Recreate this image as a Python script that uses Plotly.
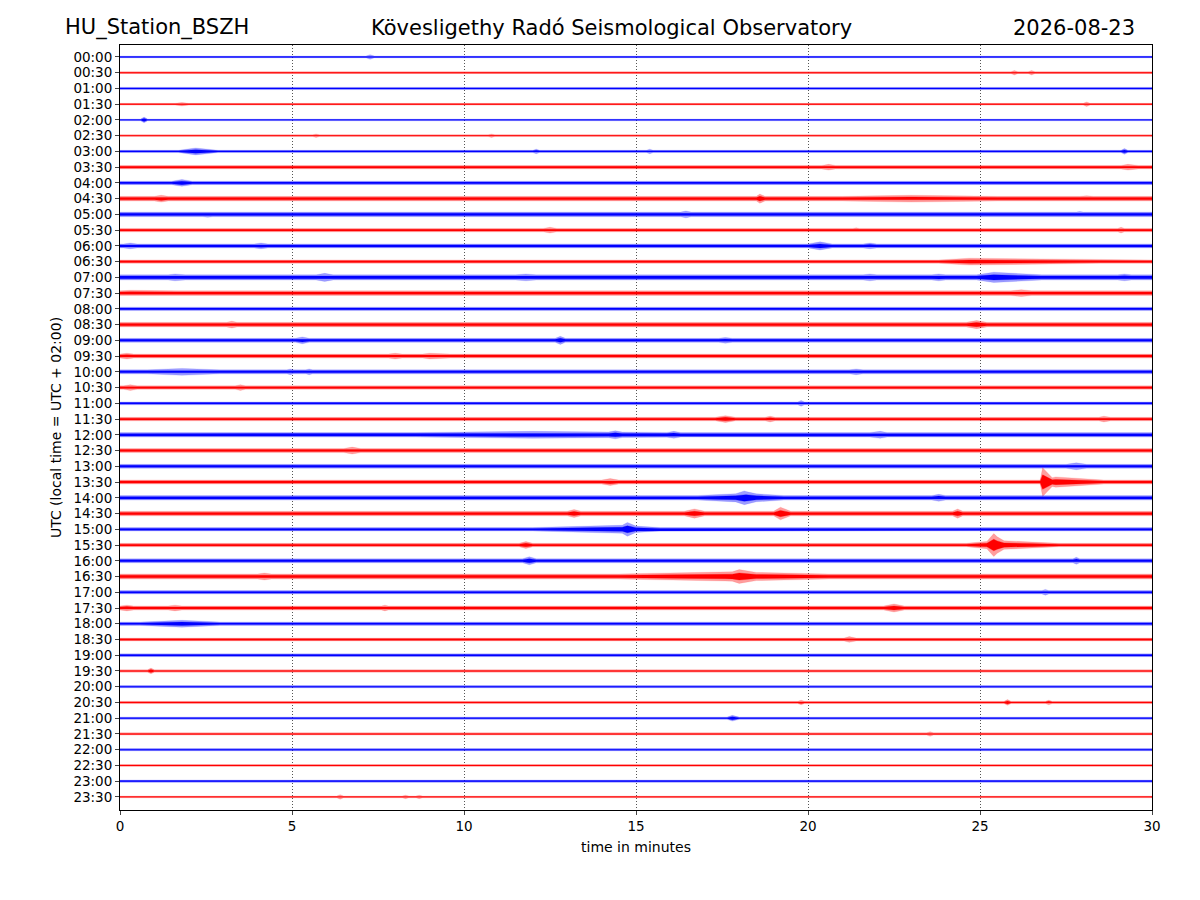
import plotly.graph_objects as go

# row labels (UTC), one trace every 30 minutes
row_labels = ["%02d:%02d" % (h, m) for h in range(24) for m in (0, 30)]
row_colors = ["#0000ff", "#ff0000"] * 24
fringe_colors = ["rgba(0,0,255,0.38)", "rgba(255,0,0,0.38)"] * 24

# background noise level of each row (trace thickness, px-ish units)
base_amp = [1.5, 1.5, 2.0, 1.5, 1.5, 1.5, 2.0, 3.0, 3.0, 4.0, 4.0, 3.0,
            3.5, 3.0, 4.5, 4.0, 3.0, 4.0, 3.5, 3.5, 3.5, 3.0, 2.5, 3.0,
            4.0, 3.5, 3.5, 3.5, 4.0, 4.0, 3.0, 3.0, 3.5, 4.5, 3.0, 3.5,
            3.0, 2.5, 2.5, 2.0, 2.0, 2.0, 2.0, 2.0, 2.0, 1.5, 2.0, 1.5]

# events: row, start min, peak min, end min, peak amplitude
ev_row = [0, 1, 1, 3, 3, 4, 5, 5, 6, 6, 6, 6, 7, 7, 7,
          8, 9, 9, 9, 9, 10, 10, 10, 11, 11, 11, 12, 12, 12, 12,
          13, 14, 14, 14, 14, 14, 14, 14, 15, 15, 15, 15,
          16, 16, 17, 17, 18, 18, 18, 19, 19, 19, 20, 20, 20, 20,
          21, 21, 22, 23, 23, 23, 24, 24, 24, 24, 25, 26,
          27, 27, 27, 28, 28, 28, 29, 29, 29, 29, 30, 30, 31, 31, 31,
          32, 32, 33, 33, 33, 34, 35, 35, 35, 35, 36, 37, 39,
          40, 41, 41, 41, 42, 43, 43, 46, 47, 47, 47]
ev_t0 = [7.15, 25.9, 26.4, 1.6, 28.0, 0.6, 5.6, 10.7, 1.7, 12.0, 15.3, 29.1, 20.4, 14.2, 29.1,
         1.5, 1.0, 18.5, 21.0, 27.9, 2.4, 16.3, 27.8, 12.3, 21.3, 29.0, 0.1, 3.9, 20.0, 21.6,
         23.8, 1.4, 5.7, 11.5, 21.6, 23.6, 24.9, 29.0, 0.0, 8.8, 21.0, 25.9,
         10.9, 19.2, 3.1, 24.6, 5.1, 12.65, 17.4, 0.0, 7.8, 8.8, 0.8, 4.85, 5.4, 21.2,
         0.1, 3.35, 19.7, 17.3, 18.75, 28.45, 8.6, 14.2, 15.9, 21.8, 6.5, 27.5,
         14.0, 26.75, 26.8, 16.8, 17.9, 23.6, 13.0, 16.4, 19.0, 24.2, 12.0, 14.5, 11.6, 24.6, 25.2,
         11.7, 27.7, 4.0, 14.5, 17.6, 26.8, 0.0, 1.4, 7.6, 22.2, 0.6, 21.05, 0.8,
         20.25, 19.7, 25.7, 26.9, 17.65, 23.45, 21.6, 28.9, 6.3, 8.2, 8.6]
ev_tp = [7.27, 26.0, 26.5, 1.8, 28.1, 0.7, 5.7, 10.8, 2.2, 12.1, 15.4, 29.2, 20.6, 14.4, 29.3,
         1.8, 1.2, 18.6, 23.0, 28.1, 2.55, 16.45, 27.9, 12.5, 21.4, 29.1, 0.3, 4.1, 20.35, 21.8,
         24.7, 1.6, 5.95, 11.8, 21.8, 23.8, 25.4, 29.2, 0.3, 9.0, 21.2, 26.2,
         11.0, 19.3, 3.25, 24.9, 5.3, 12.8, 17.6, 0.2, 8.0, 9.0, 1.8, 4.95, 5.5, 21.4,
         0.3, 3.5, 19.8, 17.6, 18.9, 28.6, 12.0, 14.4, 16.1, 22.1, 6.75, 27.8,
         14.25, 26.82, 27.2, 18.2, 18.15, 23.8, 13.2, 16.7, 19.2, 24.35, 14.6, 14.75, 11.8, 25.5, 25.4,
         11.9, 27.8, 4.2, 17.8, 18.0, 26.9, 0.2, 1.6, 7.7, 22.5, 1.8, 21.2, 0.9,
         20.35, 19.8, 25.8, 27.0, 17.8, 23.55, 21.7, 29.0, 6.4, 8.3, 8.7]
ev_t1 = [7.4, 26.1, 26.6, 2.0, 28.2, 0.8, 5.8, 10.9, 2.85, 12.2, 15.5, 29.3, 20.8, 14.6, 29.6,
         2.1, 1.4, 18.75, 25.5, 28.3, 2.7, 16.6, 28.0, 12.7, 21.5, 29.2, 0.5, 4.3, 20.7, 22.0,
         28.5, 1.9, 6.2, 12.1, 22.0, 24.0, 26.8, 29.4, 1.7, 9.8, 21.4, 26.5,
         11.1, 19.4, 3.4, 25.2, 5.5, 12.95, 17.8, 0.4, 8.2, 9.6, 2.9, 5.05, 5.6, 21.6,
         0.5, 3.65, 19.9, 17.9, 19.05, 28.8, 16.3, 14.6, 16.3, 22.3, 7.0, 28.1,
         14.5, 27.1, 28.6, 19.3, 18.5, 24.0, 13.4, 17.0, 19.5, 24.5, 15.7, 15.0, 12.0, 27.3, 25.7,
         12.1, 27.9, 4.4, 20.6, 18.5, 27.0, 0.4, 1.8, 7.8, 22.8, 2.9, 21.4, 1.0,
         20.45, 19.9, 25.9, 27.1, 18.0, 23.65, 21.8, 29.1, 6.5, 8.4, 8.8]
ev_amp = [4, 4, 4, 3, 4, 5, 3, 3, 6, 4, 4, 5, 5, 4, 5,
          6, 6, 8, 6, 5, 5, 6, 5, 5, 4, 5, 5, 5, 7, 5,
          6, 6, 7, 6, 6, 6, 9, 6, 5, 5, 5, 6,
          4, 4, 6, 7, 6, 7, 5, 5, 5, 5, 6, 5, 5, 5,
          5, 5, 5, 6, 5, 5, 6, 7, 6, 6, 6, 6,
          6, 25, 9, 8, 12, 6, 7, 8, 11, 8, 7, 12, 6, 8, 20,
          7, 6, 6, 8, 12, 5, 5, 5, 5, 7, 6, 5, 5,
          3, 4, 5, 4, 5, 4, 3, 3, 4, 3, 3]

ticks_x = [0, 5, 10, 15, 20, 25, 30]
row_px = 15.74  # pixels between two rows, turns px amplitudes into row units
amp_scale = 1.15


def envelope(r):
    evs = [(ev_t0[i], ev_tp[i], ev_t1[i], ev_amp[i])
           for i in range(len(ev_row)) if ev_row[i] == r]
    ts = sorted(set([0.0, 30.0] + [t for e in evs for t in e[:3]]))
    out = []
    for t in ts:
        a = base_amp[r]
        for t0, tp, t1, amp in evs:
            if t0 <= t <= tp and tp > t0:
                a = max(a, base_amp[r] + (amp - base_amp[r]) * (t - t0) / (tp - t0))
            elif tp <= t <= t1 and t1 > tp:
                a = max(a, amp - (amp - base_amp[r]) * (t - tp) / (t1 - tp))
            elif t == tp:
                a = max(a, amp)
        out.append((t, a))
    return out


fig = go.Figure()
for r in range(len(row_labels)):
    pts = envelope(r)
    xs = [p[0] for p in pts]
    # light outer fringe, then saturated core
    for scale, col in ((amp_scale, fringe_colors[r]), (0.5 * amp_scale, row_colors[r])):
        up = [r - scale * p[1] / 2 / row_px for p in pts]
        lo = [r + scale * p[1] / 2 / row_px for p in pts]
        fig.add_trace(go.Scatter(x=xs + xs[::-1], y=up + lo[::-1], mode="lines",
                                 fill="toself", fillcolor=col,
                                 line=dict(color=col, width=0.3),
                                 hoverinfo="skip", showlegend=False))

fig.update_layout(
    width=1192, height=892,
    margin=dict(l=112, r=48, t=37, b=90),
    paper_bgcolor="white", plot_bgcolor="white",
    font=dict(family="DejaVu Sans", size=14, color="black"),
    xaxis=dict(range=[0, 30], tickvals=ticks_x, ticks="outside", ticklen=4,
               tickfont=dict(size=13.5),
               showline=True, linecolor="black", mirror=True, linewidth=1,
               showgrid=True, gridcolor="#555555", griddash="1px,2px", gridwidth=0.8,
               zeroline=False,
               title=dict(text="time in minutes", standoff=8, font=dict(size=14))),
    yaxis=dict(range=[47.83, -0.76], tickvals=list(range(48)), ticktext=row_labels,
               tickfont=dict(size=13.5),
               ticks="outside", ticklen=4, showline=True, linecolor="black",
               mirror=True, linewidth=1, showgrid=False, zeroline=False,
               title=dict(text="UTC (local time = UTC + 02:00)", standoff=8,
                          font=dict(size=14))),
)

title_font = dict(family="DejaVu Sans", size=21, color="black")
fig.add_annotation(text="HU_Station_BSZH", xref="paper", yref="paper",
                   x=-0.0552, y=1.0, xanchor="left", yanchor="bottom", yshift=3,
                   showarrow=False, font=title_font)
fig.add_annotation(text="Kövesligethy Radó Seismological Observatory", xref="paper", yref="paper",
                   x=0.4758, y=1.0, xanchor="center", yanchor="bottom", yshift=3,
                   showarrow=False, font=title_font)
fig.add_annotation(text="2026-08-23", xref="paper", yref="paper",
                   x=0.9855, y=1.0, xanchor="right", yanchor="bottom", yshift=3,
                   showarrow=False, font=title_font)

fig.write_html("out.html")
